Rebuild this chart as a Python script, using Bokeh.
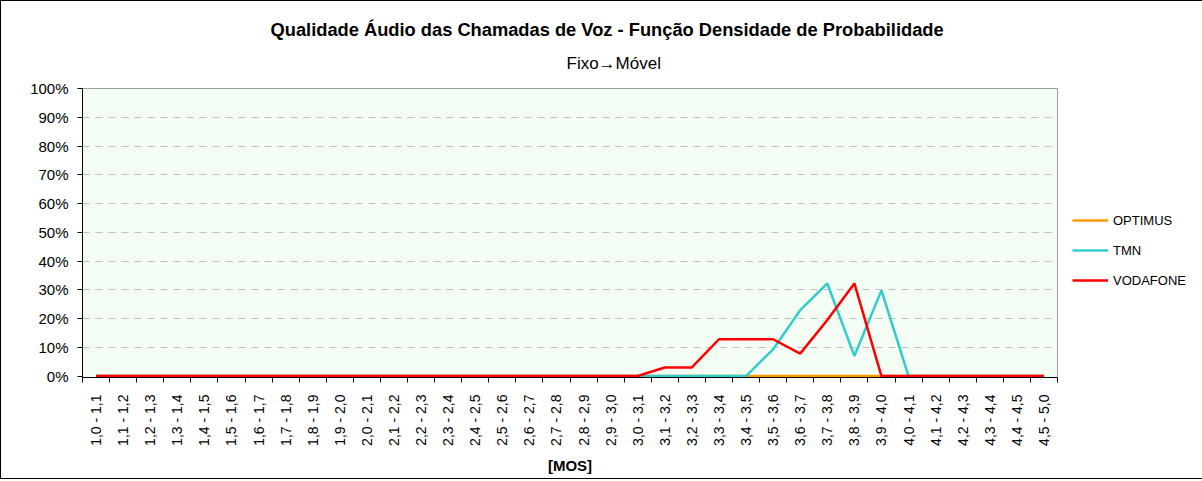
from bokeh.plotting import figure
from bokeh.models import (Range1d, FixedTicker, NumeralTickFormatter, Legend, LegendItem, Title)
from bokeh.embed import file_html
from bokeh.resources import INLINE
import math

categories = ["1,0 - 1,1", "1,1 - 1,2", "1,2 - 1,3", "1,3 - 1,4", "1,4 - 1,5", "1,5 - 1,6",
              "1,6 - 1,7", "1,7 - 1,8", "1,8 - 1,9", "1,9 - 2,0", "2,0 - 2,1", "2,1 - 2,2",
              "2,2 - 2,3", "2,3 - 2,4", "2,4 - 2,5", "2,5 - 2,6", "2,6 - 2,7", "2,7 - 2,8",
              "2,8 - 2,9", "2,9 - 3,0", "3,0 - 3,1", "3,1 - 3,2", "3,2 - 3,3", "3,3 - 3,4",
              "3,4 - 3,5", "3,5 - 3,6", "3,6 - 3,7", "3,7 - 3,8", "3,8 - 3,9", "3,9 - 4,0",
              "4,0 - 4,1", "4,1 - 4,2", "4,2 - 4,3", "4,3 - 4,4", "4,4 - 4,5", "4,5 - 5,0"]

optimus = [0.0] * 36
tmn = [0.0] * 25 + [0.093, 0.229, 0.322, 0.07, 0.298] + [0.0] * 6
vodafone = [0.0] * 21 + [0.03, 0.03, 0.128, 0.128, 0.128, 0.078, 0.195, 0.322] + [0.0] * 7

title_text = "Qualidade \u00c1udio das Chamadas de Voz - Fun\u00e7\u00e3o Densidade de Probabilidade"
subtitle_text = "Fixo\u2192M\u00f3vel"

FONT = "Liberation Sans"

n = len(categories)
xs = list(range(n))

p = figure(frame_width=975, frame_height=289, output_backend="svg", toolbar_location=None,
           x_range=Range1d(-0.5, n - 0.5), y_range=Range1d(-0.005, 1),
           min_border_left=81, min_border_right=142, min_border_top=87, min_border_bottom=101)
p.styles = {"border": "1px solid #000000"}

p.background_fill_color = "#f3fdf3"
p.border_fill_color = "#ffffff"
p.outline_line_color = "#a0a0a0"
p.outline_line_width = 1

# titles: first added sits nearest the plot
p.add_layout(Title(text=subtitle_text, align="left", offset=484, standoff=31,
                   text_font=FONT, text_font_size="17px", text_font_style="normal",
                   text_color="#000000"), "above")
p.add_layout(Title(text=title_text, align="left", offset=188, standoff=-6,
                   text_font=FONT, text_font_size="18.3px", text_font_style="bold",
                   text_color="#000000"), "above")

# axes
p.xaxis.ticker = FixedTicker(ticks=xs, minor_ticks=[i - 0.5 for i in range(n + 1)])
p.xaxis.major_label_overrides = {i: c for i, c in enumerate(categories)}
p.xaxis.major_label_orientation = math.pi / 2
p.xaxis.major_tick_out = 0
p.xaxis.major_tick_in = 0
p.xaxis.minor_tick_out = 5
p.xaxis.minor_tick_in = 0
p.xaxis.minor_tick_line_color = "#000000"
p.xaxis.axis_line_color = "#000000"
p.xaxis.major_label_text_font = FONT
p.xaxis.major_label_text_font_size = "14px"
p.xaxis.major_label_text_color = "#000000"
p.xaxis.major_label_standoff = 12
p.xaxis.axis_label = "[MOS]"
p.xaxis.axis_label_text_font = FONT
p.xaxis.axis_label_text_font_size = "15px"
p.xaxis.axis_label_text_font_style = "bold"
p.xaxis.axis_label_text_color = "#000000"
p.xaxis.axis_label_standoff = 8

p.yaxis.ticker = FixedTicker(ticks=[i / 10 for i in range(11)])
p.yaxis.formatter = NumeralTickFormatter(format="0%")
p.yaxis.major_tick_out = 5
p.yaxis.major_tick_in = 0
p.yaxis.minor_tick_line_color = None
p.yaxis.axis_line_color = "#000000"
p.yaxis.major_label_text_font = FONT
p.yaxis.major_label_text_font_size = "15px"
p.yaxis.major_label_text_color = "#000000"
p.yaxis.major_label_standoff = 9

p.xgrid.grid_line_color = None
p.ygrid.ticker = FixedTicker(ticks=[i / 10 for i in range(1, 11)])
p.ygrid.grid_line_color = "#c0c0c0"
p.ygrid.grid_line_dash = "7 6"
p.ygrid.grid_line_width = 1

r1 = p.line(xs, optimus, line_color="#ff9900", line_width=2.5)
r2 = p.line(xs, tmn, line_color="#33cccc", line_width=2.5)
r3 = p.line(xs, vodafone, line_color="#ff0000", line_width=2.5)

legend = Legend(items=[LegendItem(label="OPTIMUS", renderers=[r1]),
                       LegendItem(label="TMN", renderers=[r2]),
                       LegendItem(label="VODAFONE", renderers=[r3])],
                location=(15, 87), border_line_color=None, background_fill_alpha=0,
                label_text_font=FONT, label_text_font_size="13px", label_text_color="#000000",
                glyph_width=36, glyph_height=20, label_height=20, spacing=10, padding=0,
                margin=0, label_standoff=5)
p.add_layout(legend, "right")

open("out.html", "w").write(file_html(p, INLINE))
